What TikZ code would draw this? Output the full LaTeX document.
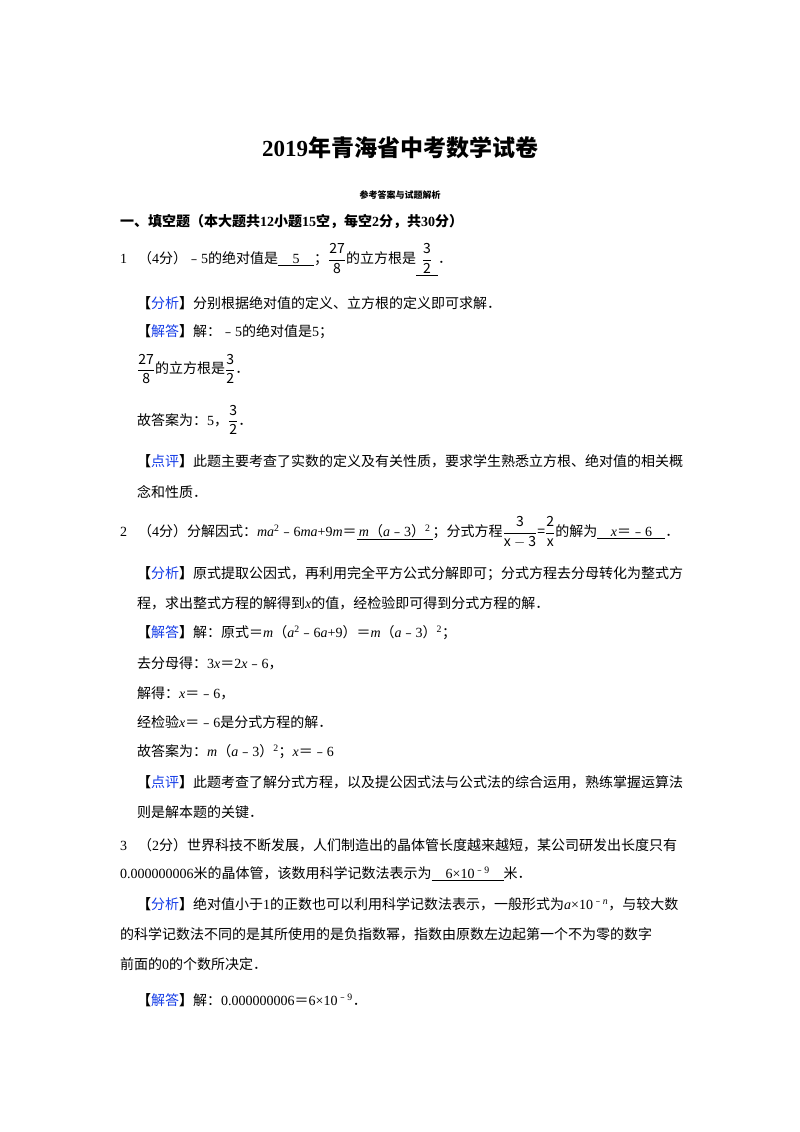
\documentclass[tikz,border=0pt]{standalone}
\usepackage{amsmath}
\usepackage{fontspec}
\setmainfont{Noto Sans CJK SC}
\newfontfamily\tmfont{Liberation Serif}
\newcommand\Lt[1]{{\tmfont #1}}
\newcommand\Li[1]{{\tmfont\itshape #1}}
\definecolor{lb}{RGB}{20,60,230}
\newcommand\lab[1]{\textbf{【}{\color{lb}#1}\textbf{】}}
\newcommand\fr[2]{$\dfrac{\mathrm{#1}}{\mathrm{#2}}$}
\newcommand\bl[2]{\underline{\makebox[#1][c]{#2}}}
\newcommand\sq{\textsuperscript{\Lt{2}}}
\begin{document}
\begin{tikzpicture}[x=1pt,y=-1pt,
  t/.style={anchor=west,inner sep=0pt,font=\fontsize{14}{17}\selectfont}]
\useasboundingbox (0,0) rectangle (800,1132);
\node[font=\fontsize{23}{28}\selectfont\bfseries,inner sep=0pt] (title) at (400,148) {\Lt{\bfseries 2019}年青海省中考数学试卷};
\node[font=\fontsize{9}{11}\selectfont\bfseries,inner sep=0pt] (sub) at (400,195) {参考答案与试题解析};
\node[t,font=\fontsize{14}{17}\selectfont\bfseries] (h1) at (120,222) {一、填空题（本大题共\Lt{\bfseries 12}小题\Lt{\bfseries 15}空，每空\Lt{\bfseries 2}分，共\Lt{\bfseries 30}分）};
\node[t] (q1) at (120,260) {\Lt{1．}（\Lt{4}分）﹣\Lt{5}的绝对值是\bl{36pt}{\Lt{5}}；\fr{27}{8}的立方根是\bl{22pt}{\fr{3}{2}}．};
\node[t] (a1) at (137,303) {\lab{分析}分别根据绝对值的定义、立方根的定义即可求解．};
\node[t] (b1) at (137,332) {\lab{解答}解：﹣\Lt{5}的绝对值是\Lt{5}；};
\node[t] (c1) at (137,369) {\fr{27}{8}的立方根是\fr{3}{2}．};
\node[t] (d1) at (137,420) {故答案为：\Lt{5}，\fr{3}{2}．};
\node[t] (e1) at (137,461) {\lab{点评}此题主要考查了实数的定义及有关性质，要求学生熟悉立方根、绝对值的相关概};
\node[t] (f1) at (137,492) {念和性质．};
\node[t] (q2) at (120,532) {\Lt{2．}（\Lt{4}分）分解因式：\Li{ma}\sq﹣\Lt{6}\Li{ma}\Lt{+9}\Li{m}＝\bl{76pt}{\Li{m}（\Li{a}﹣\Lt{3}）\sq}；分式方程\fr{3}{x-3}=\fr{2}{x}的解为\bl{68pt}{\Li{x}＝﹣\Lt{6}}．};
\node[t] (a2) at (137,574) {\lab{分析}原式提取公因式，再利用完全平方公式分解即可；分式方程去分母转化为整式方};
\node[t] (a2b) at (137,603) {程，求出整式方程的解得到\Li{x}的值，经检验即可得到分式方程的解．};
\node[t] (b2) at (137,633) {\lab{解答}解：原式＝\Li{m}（\Li{a}\sq﹣\Lt{6}\Li{a}\Lt{+9}）＝\Li{m}（\Li{a}﹣\Lt{3}）\sq；};
\node[t] (c2) at (137,663) {去分母得：\Lt{3}\Li{x}＝\Lt{2}\Li{x}﹣\Lt{6}，};
\node[t] (d2) at (137,693) {解得：\Li{x}＝﹣\Lt{6}，};
\node[t] (e2) at (137,722) {经检验\Li{x}＝﹣\Lt{6}是分式方程的解．};
\node[t] (f2) at (137,752) {故答案为：\Li{m}（\Li{a}﹣\Lt{3}）\sq；\Li{x}＝﹣\Lt{6}};
\node[t] (g2) at (137,782) {\lab{点评}此题考查了解分式方程，以及提公因式法与公式法的综合运用，熟练掌握运算法};
\node[t] (h2) at (137,812) {则是解本题的关键．};
\node[t] (q3) at (120,845) {\Lt{3．}（\Lt{2}分）世界科技不断发展，人们制造出的晶体管长度越来越短，某公司研发出长度只有};
\node[t] (q3b) at (120,874) {\Lt{0.000000006}米的晶体管，该数用科学记数法表示为\bl{72pt}{\Lt{6×10}\textsuperscript{﹣\Lt{9}}}米．};
\node[t] (a3) at (137,904) {\lab{分析}绝对值小于\Lt{1}的正数也可以利用科学记数法表示，一般形式为\Li{a}\Lt{×10}\textsuperscript{﹣\Li{n}}，与较大数};
\node[t] (a3b) at (120,934) {的科学记数法不同的是其所使用的是负指数幂，指数由原数左边起第一个不为零的数字};
\node[t] (a3c) at (120,964) {前面的\Lt{0}的个数所决定．};
\node[t] (b3) at (137,1000) {\lab{解答}解：\Lt{0.000000006}＝\Lt{6×10}\textsuperscript{﹣\Lt{9}}．};
\end{tikzpicture}
\end{document}
